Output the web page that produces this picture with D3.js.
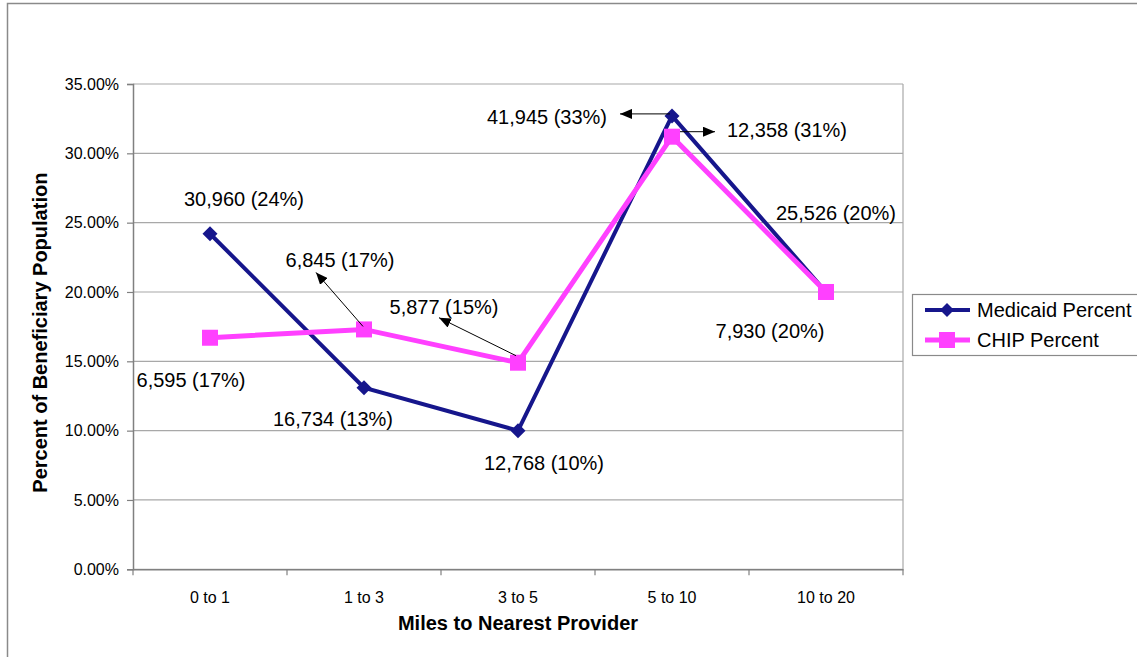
<!DOCTYPE html>
<html>
<head>
<meta charset="utf-8">
<script src="https://cdn.jsdelivr.net/npm/d3@7"></script>
<style>
  body { margin: 0; background: #fff; }
  text { font-family: "Liberation Sans", Arial, Helvetica, sans-serif; fill: #000; }
</style>
</head>
<body>
<svg id="chart" width="1137" height="657"></svg>
<script>
const categories = ["0 to 1", "1 to 3", "3 to 5", "5 to 10", "10 to 20"]
const medicaidPct = [24.2, 13.1, 10.0, 32.7, 20.0]
const chipPct = [16.7, 17.3, 14.9, 31.2, 20.0]
const medicaidCount = [30960, 16734, 12768, 41945, 25526]
const chipCount = [6595, 6845, 5877, 12358, 7930]
const yTicks = [0, 5, 10, 15, 20, 25, 30, 35]

// where each data label sits, relative to its point (label centre)
const medicaidLabelOffset = [[34, -35], [-31, 31], [26, 32], [-125, 1], [10, -79]]
const chipLabelOffset = [[-19, 42], [-24, -69], [-74, -56], [115, -7], [-56, 39]]
// arrows from near the point to the label: [x1, y1, x2, y2] relative to point
const medicaidArrows = [null, null, null, [-2, -2, -52, -2], null]
const chipArrows = [null, [-1, -3, -48, -57], [-2, -7, -79, -45], [8, -5, 43, -5], null]

const navy = "#16168c"
const pink = "#ff40ff"

const svg = d3.select("#chart")
const margin = { left: 133, right: 234, top: 84, bottom: 88 }
const width = 1137, height = 657

// outer frame
svg.append("rect")
  .attr("x", 7.5).attr("y", 3.5)
  .attr("width", 1140).attr("height", 660)
  .attr("fill", "none").attr("stroke", "#8a8a8a").attr("stroke-width", 1.5)

const x = d3.scaleBand()
  .domain(categories)
  .range([margin.left, width - margin.right])

const y = d3.scaleLinear()
  .domain([0, 35])
  .range([height - margin.bottom + 0.3, margin.top])

// gridlines
svg.append("g")
  .selectAll("line")
  .data(yTicks)
  .join("line")
    .attr("x1", margin.left).attr("x2", width - margin.right)
    .attr("y1", d => y(d)).attr("y2", d => y(d))
    .attr("stroke", "#a8a8a8").attr("stroke-width", 1.2)

// plot frame right side
svg.append("line")
  .attr("x1", width - margin.right).attr("x2", width - margin.right)
  .attr("y1", y(35)).attr("y2", y(0))
  .attr("stroke", "#a8a8a8").attr("stroke-width", 1.2)

// y axis
const yAxis = svg.append("g")
  .attr("transform", `translate(${margin.left},0)`)
  .call(d3.axisLeft(y).tickValues(yTicks).tickSize(6).tickPadding(8)
    .tickFormat(d => d.toFixed(2) + "%"))
yAxis.select(".domain").attr("stroke", "#808080").attr("stroke-width", 1.5)
yAxis.selectAll(".tick line").attr("stroke", "#808080").attr("stroke-width", 1.2)
yAxis.selectAll(".tick text")
  .style("font-family", "Liberation Sans, Arial, sans-serif")
  .style("font-size", "16px").attr("fill", "#000")

// x axis, ticks on band boundaries
const xAxis = svg.append("g")
  .attr("transform", `translate(0,${y(0)})`)
  .call(d3.axisBottom(x).tickSize(0).tickPadding(22))
xAxis.select(".domain").attr("stroke", "#808080").attr("stroke-width", 1.5)
xAxis.selectAll(".tick text")
  .style("font-family", "Liberation Sans, Arial, sans-serif")
  .style("font-size", "16px").attr("fill", "#000")
xAxis.selectAll(".boundary")
  .data(categories.concat([null]))
  .join("line")
    .attr("x1", (d, i) => margin.left + i * x.step())
    .attr("x2", (d, i) => margin.left + i * x.step())
    .attr("y1", 0).attr("y2", 6)
    .attr("stroke", "#808080").attr("stroke-width", 1.2)

// axis titles
svg.append("text")
  .attr("x", x.range()[0] + (x.range()[1] - x.range()[0]) / 2)
  .attr("y", 630)
  .attr("text-anchor", "middle")
  .style("font-size", "20px").style("font-weight", "bold")
  .text("Miles to Nearest Provider")

svg.append("text")
  .attr("transform", `translate(47,${(y(0) + y(35)) / 2 + 6})rotate(-90)`)
  .attr("text-anchor", "middle")
  .style("font-size", "20px").style("font-weight", "bold")
  .text("Percent of Beneficiary Population")

const cx = (d, i) => x(categories[i]) + x.bandwidth() / 2
const line = d3.line().x((d, i) => cx(d, i)).y(d => y(d))

const diamond = (s) => `M0,${-s}L${s},0L0,${s}L${-s},0Z`

// medicaid series
svg.append("path")
  .datum(medicaidPct)
  .attr("d", line)
  .attr("fill", "none").attr("stroke", navy).attr("stroke-width", 4)
  .attr("stroke-linejoin", "miter")

svg.append("g")
  .selectAll("path")
  .data(medicaidPct)
  .join("path")
    .attr("d", diamond(7.5))
    .attr("transform", (d, i) => `translate(${cx(d, i)},${y(d)})`)
    .attr("fill", navy)

// chip series
svg.append("path")
  .datum(chipPct)
  .attr("d", line)
  .attr("fill", "none").attr("stroke", pink).attr("stroke-width", 5)
  .attr("stroke-linejoin", "miter")

svg.append("g")
  .selectAll("rect")
  .data(chipPct)
  .join("rect")
    .attr("x", (d, i) => cx(d, i) - 8)
    .attr("y", d => y(d) - 8)
    .attr("width", 16).attr("height", 16)
    .attr("fill", pink)

// arrow marker
svg.append("defs").append("marker")
  .attr("id", "arrow")
  .attr("viewBox", "0 0 12 10")
  .attr("refX", 12).attr("refY", 5)
  .attr("markerWidth", 12).attr("markerHeight", 10)
  .attr("markerUnits", "userSpaceOnUse")
  .attr("orient", "auto")
  .append("path")
    .attr("d", "M0,0L12,5L0,10Z")
    .attr("fill", "#000")

const fmt = d3.format(",")

function annotate(values, counts, offsets, arrows) {
  values.forEach((v, i) => {
    const px = cx(v, i), py = y(v)
    const a = arrows[i]
    if (a) {
      svg.append("line")
        .attr("x1", px + a[0]).attr("y1", py + a[1])
        .attr("x2", px + a[2]).attr("y2", py + a[3])
        .attr("stroke", "#000").attr("stroke-width", 1)
        .attr("marker-end", "url(#arrow)")
    }
    svg.append("text")
      .attr("x", px + offsets[i][0])
      .attr("y", py + offsets[i][1] + 7)
      .attr("text-anchor", "middle")
      .style("font-size", "20px")
      .text(`${fmt(counts[i])} (${Math.round(v)}%)`)
  })
}

annotate(medicaidPct, medicaidCount, medicaidLabelOffset, medicaidArrows)
annotate(chipPct, chipCount, chipLabelOffset, chipArrows)

// legend
const legend = svg.append("g").attr("transform", "translate(912,294)")
legend.append("rect")
  .attr("x", 0.5).attr("y", 0.5)
  .attr("width", 240).attr("height", 61)
  .attr("fill", "#fff").attr("stroke", "#8a8a8a").attr("stroke-width", 1.2)

const legendItems = [
  { name: "Medicaid Percent", color: navy, shape: "diamond" },
  { name: "CHIP Percent", color: pink, shape: "square" }
]
legendItems.forEach((item, i) => {
  const ly = 16 + i * 30
  const g = legend.append("g").attr("transform", `translate(0,${ly})`)
  g.append("line")
    .attr("x1", 13).attr("x2", 58).attr("y1", 0).attr("y2", 0)
    .attr("stroke", item.color).attr("stroke-width", item.shape == "square" ? 5 : 4)
  if (item.shape == "diamond") {
    g.append("path").attr("d", diamond(7)).attr("transform", "translate(35,0)").attr("fill", item.color)
  } else {
    g.append("rect").attr("x", 27).attr("y", -8).attr("width", 16).attr("height", 16).attr("fill", item.color)
  }
  g.append("text")
    .attr("x", 65).attr("y", 7)
    .style("font-size", "20px")
    .text(item.name)
})
</script>
</body>
</html>
